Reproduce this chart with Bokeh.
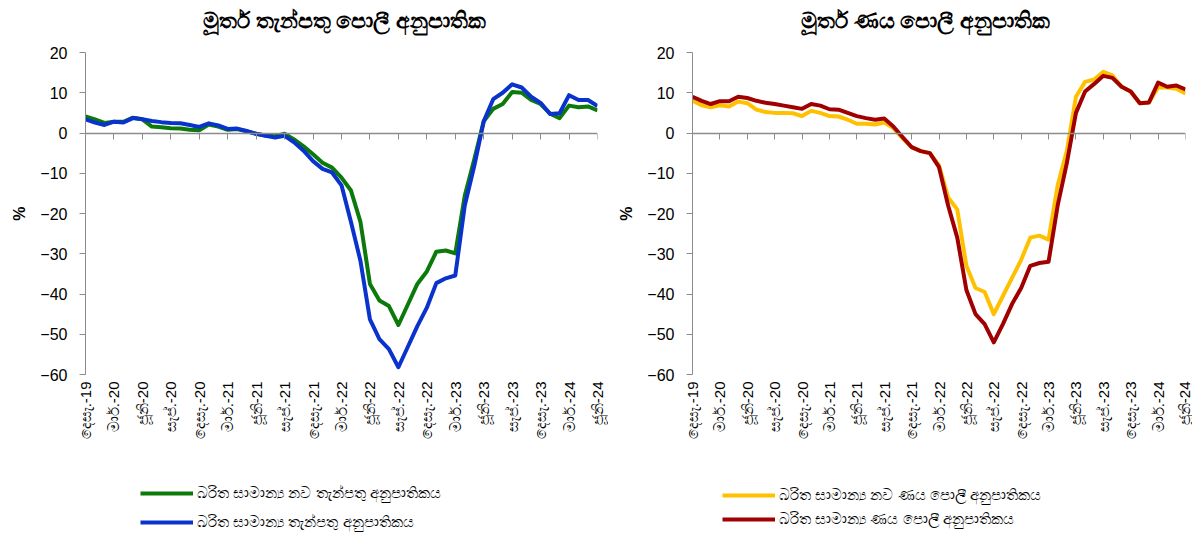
from math import pi
from bokeh.plotting import figure
from bokeh.models import (Legend, LegendItem, LinearAxis, FixedTicker, Range1d, Label)
from bokeh.layouts import row, column
from bokeh.embed import file_html
from bokeh.resources import INLINE

# ---------------- data ----------------
months = list(range(55))  # Dec-2019 .. Jun-2024, monthly
tick_positions = list(range(0, 55, 3))
tick_labels = ["දෙසැ.-19", "මාර්.-20", "ජූනි-20", "සැප්.-20", "දෙසැ.-20",
               "මාර්.-21", "ජූනි-21", "සැප්.-21", "දෙසැ.-21", "මාර්.-22",
               "ජූනි-22", "සැප්.-22", "දෙසැ.-22", "මාර්.-23", "ජූනි-23",
               "සැප්.-23", "දෙසැ.-23", "මාර්.-24", "ජූනි-24"]

left_title = "මූර්ත තැන්පතු පොලී අනුපාතික"
right_title = "මූර්ත ණය පොලී අනුපාතික"

new_deposit_label = "බරිත සාමාන්‍ය නව තැන්පතු අනුපාතිකය"
deposit_label = "බරිත සාමාන්‍ය තැන්පතු අනුපාතිකය"
new_loan_label = "බරිත සාමාන්‍ය නව ණය පොලී අනුපාතිකය"
loan_label = "බරිත සාමාන්‍ය ණය පොලී අනුපාතිකය"

new_deposit = [4.1, 3.4, 2.5, 2.8, 2.8, 3.8, 3.4, 1.6, 1.4, 1.2, 1.1, 0.8, 0.7,
               2.1, 1.6, 0.8, 1.0, 0.4, -0.2, -0.6, -0.8, -0.2, -1.6,
               -3.3, -5.3, -7.4, -8.6, -11.1, -14.3, -22.1, -37.5, -41.6, -43.0,
               -47.7, -42.6, -37.5, -34.4, -29.5, -29.2, -29.9, -15.6, -6.6, 2.9,
               6.0, 7.2, 10.2, 10.0, 8.2, 7.2, 4.8, 3.7, 6.8, 6.4, 6.6, 5.6]
deposit = [3.4, 2.6, 2.0, 2.8, 2.6, 3.7, 3.4, 3.0, 2.7, 2.5, 2.4, 2.0, 1.5,
           2.4, 1.9, 1.0, 1.1, 0.5, -0.2, -0.7, -1.1, -0.7, -2.3,
           -4.4, -7.0, -8.9, -9.8, -13.0, -22.1, -31.8, -46.3, -51.2, -53.7,
           -58.2, -53.1, -48.0, -43.4, -37.3, -36.1, -35.4, -18.0, -8.2, 2.9,
           8.4, 10.0, 12.1, 11.3, 9.0, 7.5, 4.7, 4.9, 9.4, 8.2, 8.2, 6.7]
new_loan = [8.0, 6.9, 6.4, 6.9, 6.6, 7.8, 7.4, 5.8, 5.2, 5.0, 5.0, 4.9, 4.2,
            5.5, 5.0, 4.2, 4.1, 3.3, 2.3, 2.3, 2.1, 2.6, 1.2,
            -1.3, -3.5, -4.5, -5.0, -8.0, -16.0, -19.0, -33.0, -38.5, -39.5,
            -45.0, -40.5, -36.0, -31.5, -26.0, -25.5, -26.5, -13.0, -4.5, 9.0,
            12.7, 13.3, 15.2, 14.3, 11.5, 10.3, 7.4, 7.6, 11.3, 11.3, 11.0, 9.8]
loan = [9.0, 8.0, 7.2, 7.9, 7.9, 9.0, 8.7, 8.0, 7.5, 7.2, 6.8, 6.4, 6.0,
        7.2, 6.8, 5.9, 5.8, 5.0, 4.2, 3.7, 3.3, 3.6, 1.6,
        -1.0, -3.5, -4.5, -5.0, -8.5, -18.0, -26.0, -39.0, -45.0, -47.5,
        -52.0, -47.5, -42.5, -38.5, -33.0, -32.3, -32.0, -18.0, -7.5, 5.0,
        10.3, 12.2, 14.2, 13.7, 11.5, 10.3, 7.4, 7.6, 12.5, 11.5, 11.8, 10.8]

y_ticks = [-60, -50, -40, -30, -20, -10, 0, 10, 20]

AXIS_GREY = "#8c8c8c"
FONT = "Liberation Sans"
HEAD_H = 40
MAIN_H = 422
LEG_H = 72
FRAME_H = 325


def bare_fig(width, height, x_end, y_end):
    f = figure(width=width, height=height, x_range=Range1d(0, x_end),
               y_range=Range1d(0, y_end), output_backend="svg",
               toolbar_location=None, x_axis_location=None, y_axis_location=None,
               min_border_left=0, min_border_right=0, min_border_top=0,
               min_border_bottom=0)
    f.xgrid.visible = False
    f.ygrid.visible = False
    f.outline_line_color = None
    return f


def make_header(title, width, x_center):
    h = bare_fig(width, HEAD_H, width, HEAD_H)
    h.add_layout(Label(x=x_center, y=HEAD_H - 18, text=title, text_align="center",
                       text_baseline="middle", text_font="Noto Sans",
                       text_font_size="22px", text_font_style="bold",
                       text_color="black"))
    return h


def make_fig(s1, s2, width, mbl, mbr, mbt):
    p = figure(width=width, height=MAIN_H, x_range=Range1d(0, 54),
               y_range=Range1d(-60, 20), output_backend="svg",
               toolbar_location=None, x_axis_location=None,
               min_border_left=mbl, min_border_right=mbr,
               min_border_top=mbt, min_border_bottom=MAIN_H - mbt - FRAME_H)
    p.xgrid.visible = False
    p.ygrid.visible = False
    p.outline_line_color = None

    ya = p.yaxis[0]
    ya.ticker = FixedTicker(ticks=y_ticks)
    ya.axis_line_color = AXIS_GREY
    ya.major_tick_line_color = AXIS_GREY
    ya.major_tick_out = 6
    ya.major_tick_in = 0
    ya.minor_tick_line_color = None
    ya.major_label_text_font = FONT
    ya.major_label_text_font_size = "16px"
    ya.major_label_text_color = "black"
    ya.major_label_standoff = 12
    ya.axis_label = "%"
    ya.axis_label_text_font = FONT
    ya.axis_label_text_font_size = "16px"
    ya.axis_label_text_font_style = "bold"
    ya.axis_label_text_color = "black"
    ya.axis_label_standoff = 9

    label_axis = LinearAxis(ticker=FixedTicker(ticks=tick_positions),
                            major_label_overrides={t: l for t, l in zip(tick_positions, tick_labels)},
                            major_label_orientation=pi / 2,
                            axis_line_color=None, major_tick_line_color=None,
                            minor_tick_line_color=None, major_tick_out=0, major_tick_in=0,
                            major_label_standoff=7,
                            major_label_text_font=FONT,
                            major_label_text_font_size="15px",
                            major_label_text_color="black")
    p.add_layout(label_axis, "below")

    zero_axis = LinearAxis(fixed_location=0, ticker=FixedTicker(ticks=tick_positions),
                           major_label_text_color=None,
                           axis_line_color=AXIS_GREY, major_tick_line_color=AXIS_GREY,
                           major_tick_out=6, major_tick_in=0,
                           minor_tick_line_color=None, axis_line_width=1.5)
    p.add_layout(zero_axis, "below")

    for (label, ys, color) in (s1, s2):
        p.line(months, ys, line_width=4, color=color, line_join="round")
    return p


def make_legend_fig(s1, s2, width, loc, spacing):
    lf = bare_fig(width, LEG_H, 1, 1)
    items = []
    for (label, ys, color) in (s1, s2):
        # legend-key renderer only (a single missing point draws nothing)
        r = lf.line(x=[float("nan")], y=[float("nan")], line_width=4, color=color)
        items.append(LegendItem(label=label, renderers=[r]))
    legend = Legend(items=items, location=loc, orientation="vertical",
                    border_line_color=None, background_fill_alpha=0,
                    label_text_font=FONT, label_text_font_size="15px",
                    label_text_color="black",
                    glyph_width=53, glyph_height=20, label_height=20,
                    spacing=spacing, padding=0, margin=0, label_standoff=4)
    lf.add_layout(legend, "center")
    return lf


s_new_dep = (new_deposit_label, new_deposit, "#0b7a0b")
s_dep = (deposit_label, deposit, "#0a32cc")
s_new_loan = (new_loan_label, new_loan, "#ffc000")
s_loan = (loan_label, loan, "#a00000")

h1 = make_header(left_title, 608, 344)
h2 = make_header(right_title, 584, 317)
p1 = make_fig(s_new_dep, s_dep, width=608, mbl=85, mbr=11, mbt=9)
p2 = make_fig(s_new_loan, s_loan, width=584, mbl=84, mbr=7, mbt=12)
l1 = make_legend_fig(s_new_dep, s_dep, width=608, loc=(140, 2), spacing=9)
l2 = make_legend_fig(s_new_loan, s_loan, width=584, loc=(114, 5), spacing=4)

layout = column(row(h1, h2), row(p1, p2), row(l1, l2))
open("out.html", "w").write(file_html(layout, INLINE))
